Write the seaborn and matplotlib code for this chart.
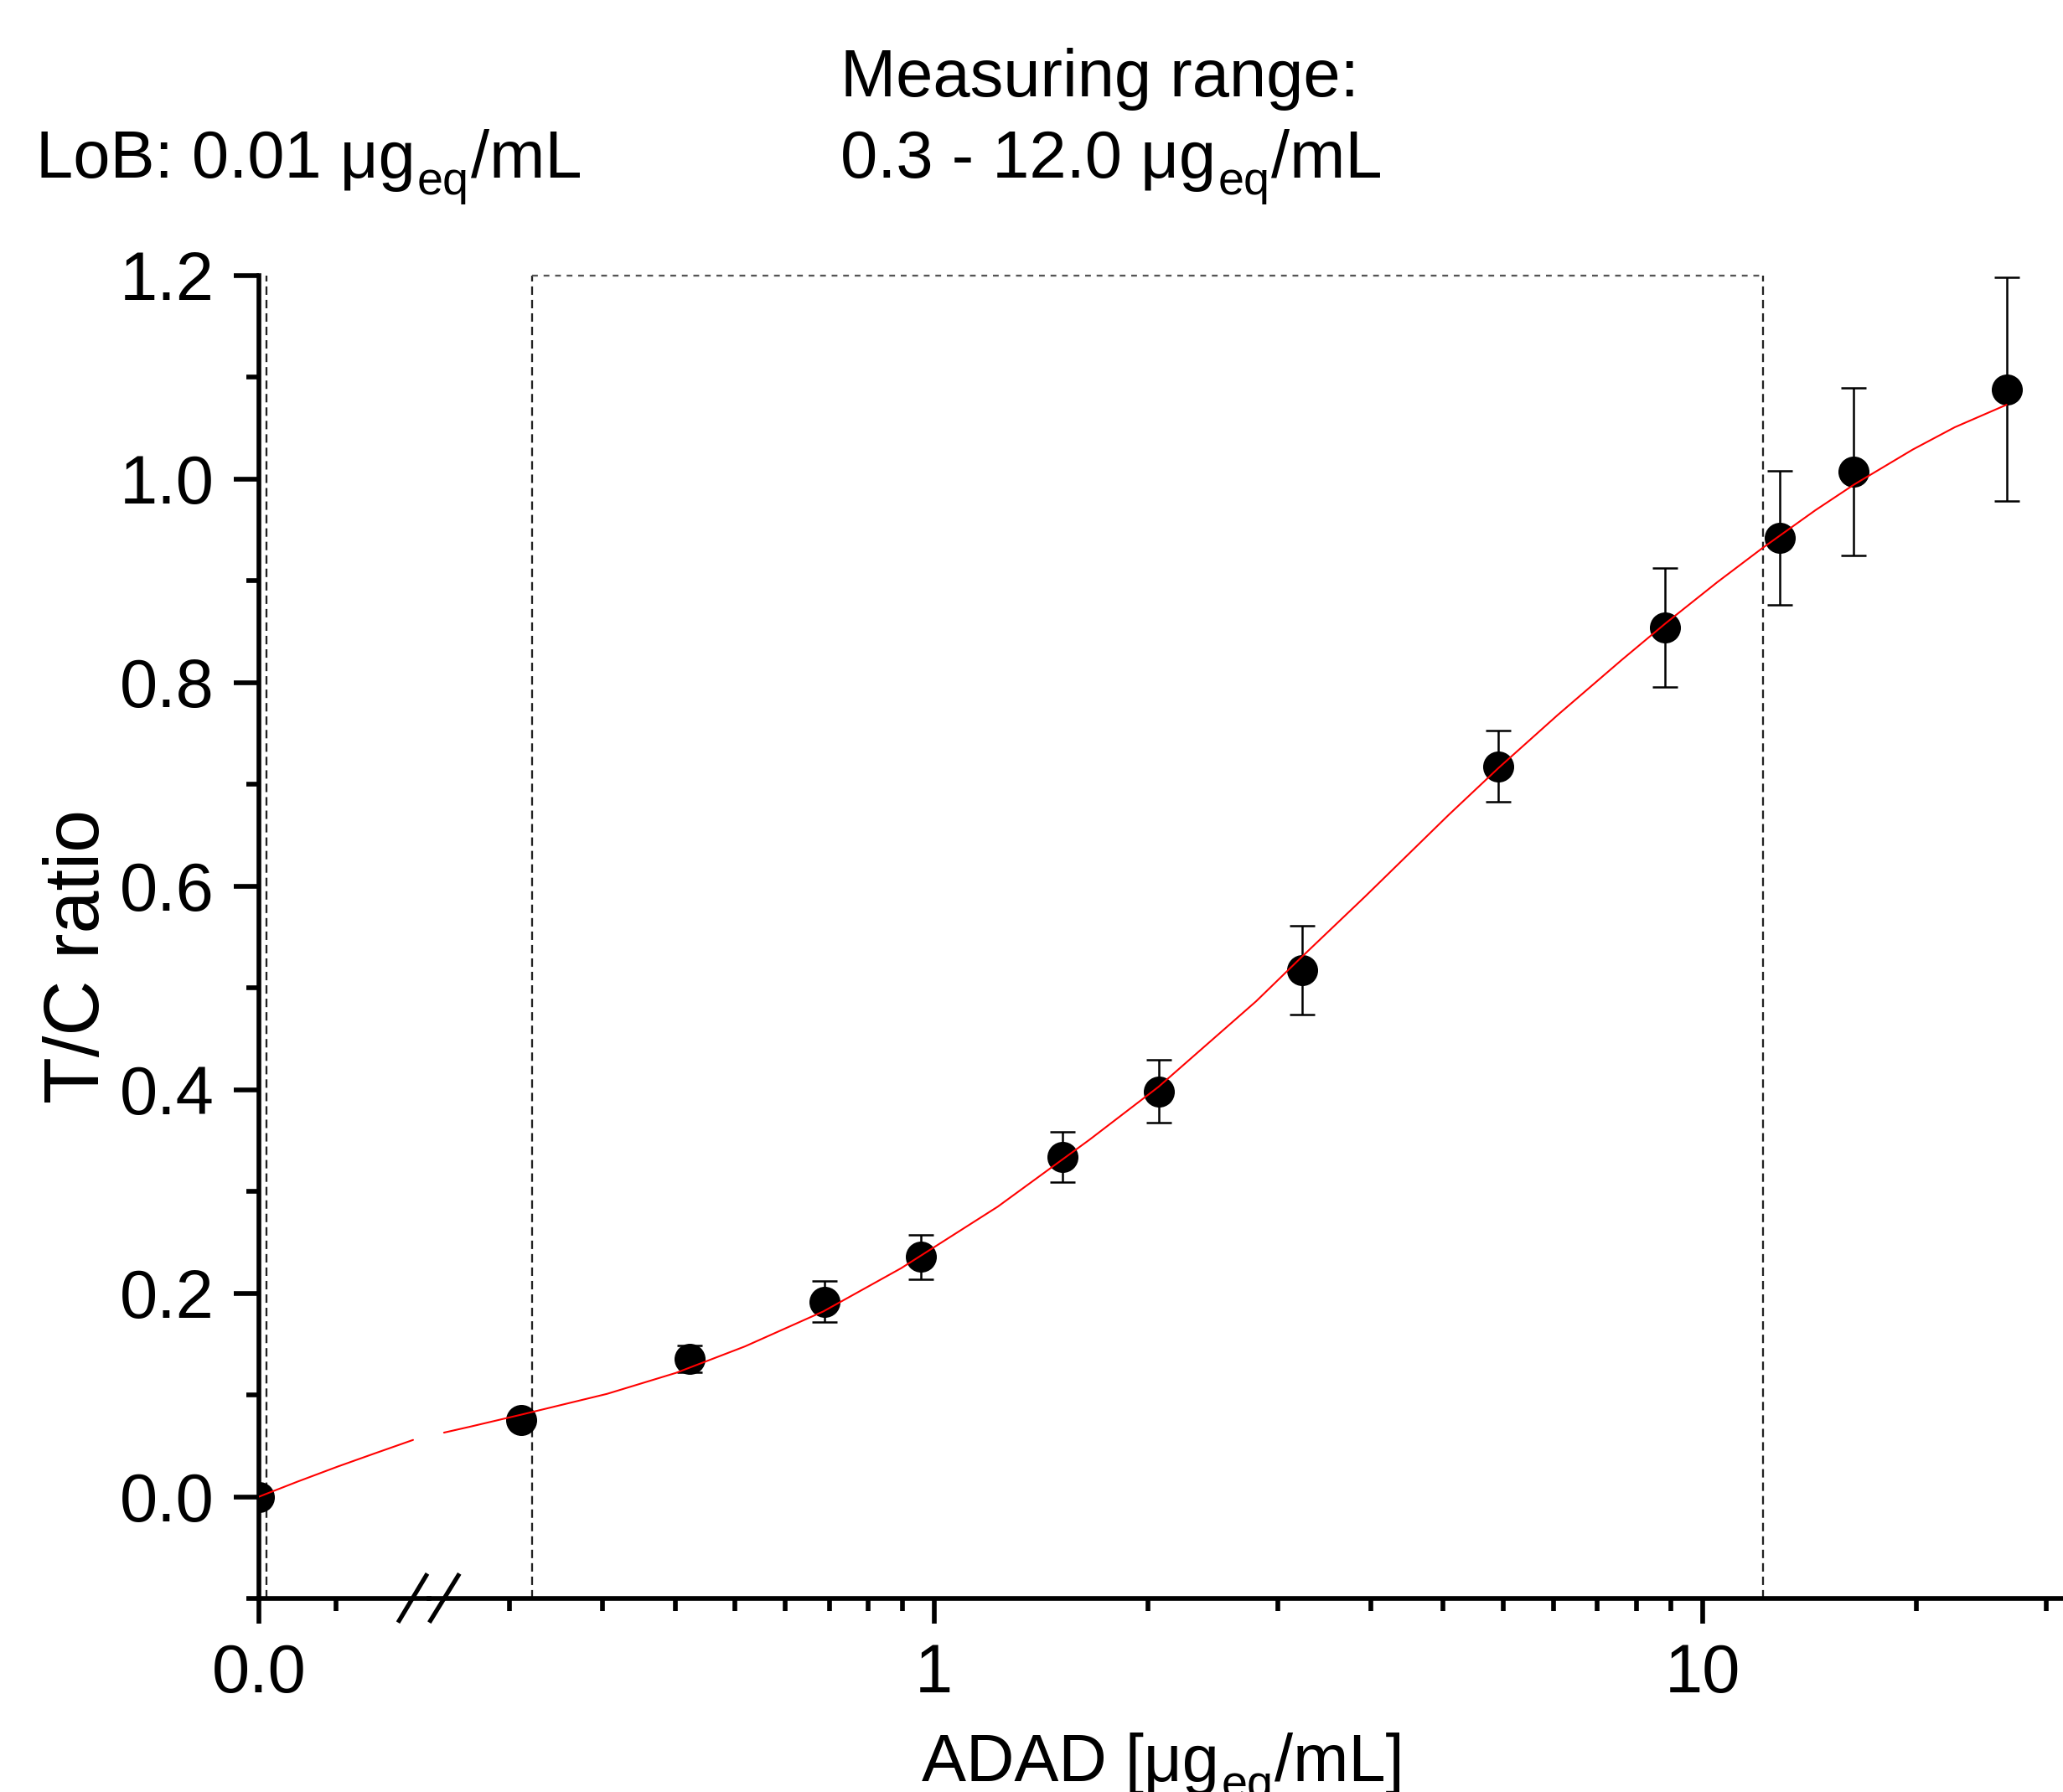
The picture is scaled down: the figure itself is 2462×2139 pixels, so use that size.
import numpy as np
import pandas as pd
import matplotlib
matplotlib.use("Agg")
import matplotlib.pyplot as plt
from matplotlib.lines import Line2D
from matplotlib.ticker import FixedLocator, FixedFormatter, NullFormatter
from matplotlib.transforms import IdentityTransform
import seaborn as sns

# ---------------- data ----------------
conc = [0.0, 0.29, 0.48, 0.72, 0.96, 1.47, 1.96, 3.01, 5.42, 8.94, 12.6, 15.75, 24.9]
tc_ratio = [0.0, 0.0755, 0.1353, 0.1917, 0.2356, 0.3336, 0.3984, 0.5175,
            0.7176, 0.8539, 0.9423, 1.0074, 1.0882]
tc_sd = [0.0, 0.006, 0.0134, 0.020, 0.022, 0.0247, 0.031, 0.0433,
         0.035, 0.0585, 0.066, 0.082, 0.110]

# fitted curve, linear (left) segment and log (right) segment
fit_x_lin = [0.0, 0.05, 0.1025, 0.15, 0.2]
fit_y_lin = [0.0, 0.0148, 0.0297, 0.0425, 0.0558]
fit_x_log = [0.2301, 0.2481, 0.2895, 0.3752, 0.4612, 0.5671, 0.7169, 0.9059,
             1.2097, 1.5934, 1.959, 2.626, 3.005, 3.641, 4.674, 5.425, 6.479,
             7.855, 8.963, 10.46, 11.98, 14.03, 15.76, 18.79, 21.31, 24.89]
fit_y_log = [0.0630, 0.0686, 0.0805, 0.1011, 0.1217, 0.1477, 0.1820, 0.2246,
             0.2850, 0.3509, 0.4028, 0.4870, 0.5300, 0.5900, 0.6700, 0.7160,
             0.7681, 0.8224, 0.8585, 0.8988, 0.9324, 0.9694, 0.9947, 1.0291,
             1.0510, 1.0731]

lob = 0.01
range_low, range_high = 0.3, 12.0
y_major = [0.0, 0.2, 0.4, 0.6, 0.8, 1.0, 1.2]
y_major_labels = ["0.0", "0.2", "0.4", "0.6", "0.8", "1.0", "1.2"]
x_left_label = "0.0"
x_right_major = [1, 10]
x_right_labels = ["1", "10"]

title_lob = [("LoB: 0.01 μg", "n"), ("eq", "s"), ("/mL", "n")]
title_range1 = "Measuring range:"
title_range2 = [("0.3 - 12.0 μg", "n"), ("eq", "s"), ("/mL", "n")]
x_label = [("ADAD [μg", "n"), ("eq", "s"), ("/mL]", "n")]
y_label = "T/C ratio"

df = pd.DataFrame({"conc": conc, "ratio": tc_ratio, "sd": tc_sd})
df_left = df[df["conc"] == 0]
df_right = df[df["conc"] > 0]
fit_lin = pd.DataFrame({"x": fit_x_lin, "y": fit_y_lin})
fit_log = pd.DataFrame({"x": fit_x_log, "y": fit_y_log})

# ---------------- style ----------------
sns.set_style("ticks")
W, H, DPI = 2462, 2139, 300
FS = 19.5      # tick labels
FS_T = 19.1    # annotation texts / x label
FS_Y = 22.0    # y label
plt.rcParams.update({
    "font.family": ["Liberation Sans", "DejaVu Sans"],
    "font.size": FS,
    "text.color": "black",
    "axes.labelcolor": "black",
    "axes.linewidth": 1.35,
    "axes.edgecolor": "black",
    "xtick.direction": "out", "ytick.direction": "out",
    "xtick.major.size": 7.2, "xtick.minor.size": 3.6,
    "ytick.major.size": 7.2, "ytick.minor.size": 3.6,
    "xtick.major.width": 1.35, "xtick.minor.width": 1.35,
    "ytick.major.width": 1.35, "ytick.minor.width": 1.35,
    "xtick.color": "black", "ytick.color": "black",
    "xtick.labelcolor": "black", "ytick.labelcolor": "black",
    "xtick.labelsize": FS, "ytick.labelsize": FS,
    "xtick.major.pad": 5.5, "ytick.major.pad": 5.5,
})

fig = plt.figure(figsize=(W / DPI, H / DPI), dpi=DPI)

def fx(px):
    return px / W

def fy(py):
    return 1 - py / H

ax_bottom, ax_top = fy(1908), fy(329)
axL = fig.add_axes([fx(309), ax_bottom, fx(512) - fx(309), ax_top - ax_bottom])
axR = fig.add_axes([fx(512), ax_bottom, fx(2469) - fx(512), ax_top - ax_bottom])

ylim = (-0.1, 1.2)
for ax in (axL, axR):
    ax.set_ylim(*ylim)
    ax.spines["top"].set_visible(False)
    ax.spines["right"].set_visible(False)
    ax.set_facecolor("none")

dash = (0, (4.4, 2.6))
dash_col = "#222222"
dash_lw = 0.55

# ---------- left (linear) segment ----------
axL.set_xlim(0, 0.2207)
axL.axvline(lob, color=dash_col, lw=dash_lw, linestyle=dash, zorder=1)
sns.scatterplot(data=df_left, x="conc", y="ratio", ax=axL, color="black",
                s=79, linewidth=0, zorder=3, legend=False)
sns.lineplot(data=fit_lin, x="x", y="y", ax=axL, color="red", lw=0.5,
             sort=False, estimator=None, zorder=4, legend=False)
axL.xaxis.set_major_locator(FixedLocator([0.0]))
axL.xaxis.set_major_formatter(FixedFormatter([x_left_label]))
axL.xaxis.set_minor_locator(FixedLocator([0.1]))
axL.xaxis.set_minor_formatter(NullFormatter())
axL.yaxis.set_major_locator(FixedLocator(y_major))
axL.yaxis.set_major_formatter(FixedFormatter(y_major_labels))
axL.yaxis.set_minor_locator(FixedLocator(list(np.arange(-0.1, 1.2, 0.2))))
axL.set_xlabel("")
axL.set_ylabel("")

# ---------- right (log) segment ----------
axR.set_xscale("log")
axR.set_xlim(0.2200, 30.0)
axR.spines["left"].set_visible(False)
axR.tick_params(axis="y", which="both", left=False, labelleft=False)
axR.axvline(range_low, color=dash_col, lw=dash_lw, linestyle=dash, zorder=1)
axR.axvline(range_high, color=dash_col, lw=dash_lw, linestyle=dash, zorder=1)
axR.plot([range_low, range_high], [ylim[1], ylim[1]], color="#555555",
         lw=dash_lw, linestyle=(0, (3, 3)), zorder=1, clip_on=False)
axR.errorbar(df_right["conc"], df_right["ratio"], yerr=df_right["sd"],
             fmt="none", ecolor="black", elinewidth=0.6, capsize=3.5,
             capthick=0.6, zorder=2)
sns.scatterplot(data=df_right, x="conc", y="ratio", ax=axR, color="black",
                s=79, linewidth=0, zorder=3, legend=False)
sns.lineplot(data=fit_log, x="x", y="y", ax=axR, color="red", lw=0.5,
             sort=False, estimator=None, zorder=4, legend=False)
axR.xaxis.set_major_locator(FixedLocator(x_right_major))
axR.xaxis.set_major_formatter(FixedFormatter(x_right_labels))
# Origin-style minor ticks: 9 evenly spaced (in value) ticks per decade
minor_ticks = [dec * (1 + 0.9 * k) for dec in (0.1, 1.0, 10.0) for k in range(1, 10)]
minor_ticks = [t for t in minor_ticks if 0.22 < t < 30]
axR.xaxis.set_minor_locator(FixedLocator(minor_ticks))
axR.xaxis.set_minor_formatter(NullFormatter())
axR.set_xlabel("")
axR.set_ylabel("")

# ---------- axis break marks ----------
for (x0, y0, x1, y1) in [(475, 1936.7, 510, 1878.3), (512.3, 1936.7, 548.3, 1878.3)]:
    fig.add_artist(Line2D([fx(x0), fx(x1)], [fy(y0), fy(y1)], color="black",
                          lw=1.25, solid_capstyle="butt",
                          transform=fig.transFigure))

# ---------- texts ----------
renderer = fig.canvas.get_renderer()
SUB_DROP = 20  # px

def rich_text(x_px, y_px, pieces, ha="left", size=FS_T):
    arts = []
    for txt, kind in pieces:
        s = size * 0.7 if kind == "s" else size
        t = fig.text(0, 0, txt, fontsize=s, ha="left", va="baseline",
                     color="black", transform=IdentityTransform())
        w = t.get_window_extent(renderer).width
        arts.append((t, kind, w))
    total = sum(a[2] for a in arts) + 2 * (len(arts) - 1)
    cx = x_px - (total / 2 if ha == "center" else 0)
    for t, kind, w in arts:
        dy = -SUB_DROP if kind == "s" else 0
        t.set_position((cx, (H - y_px) + dy))
        cx += w + 2

rich_text(43, 212, title_lob)
fig.text(fx(1003), fy(115), title_range1, ha="left", va="baseline", fontsize=FS_T)
rich_text(1003, 212, title_range2)
rich_text(1388, 2126, x_label, ha="center")
fig.text(fx(118), fy(1141), y_label, rotation=90, rotation_mode="anchor",
         ha="center", va="baseline", fontsize=FS_Y)

fig.savefig("out.png", dpi=DPI)
